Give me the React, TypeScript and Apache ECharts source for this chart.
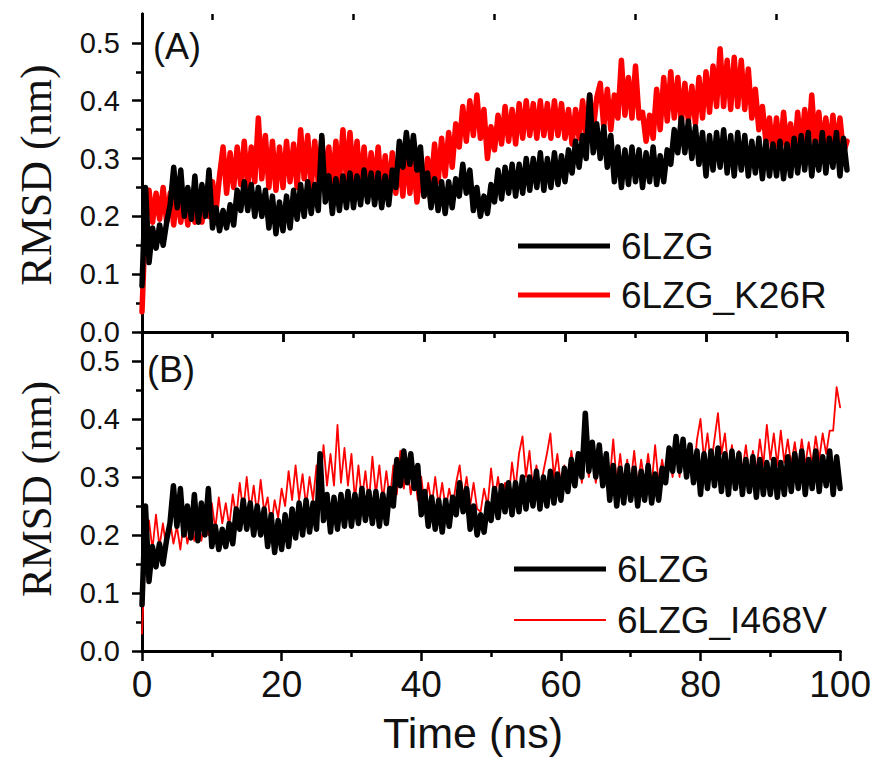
import { useEffect, useRef } from "react";
import * as echarts from "echarts";

// sampling step of the trajectories (ns)
const TIME_STEP_NS = 0.5;

// RMSD (nm) of 6LZG, read every 0.5 ns from 0 to 100 ns (shown in both panels)
const RMSD_6LZG = [
  0.08, 0.25, 0.12, 0.18, 0.145, 0.185, 0.15, 0.19, 0.22, 0.285,
  0.215, 0.28, 0.20, 0.25, 0.195, 0.27, 0.19, 0.255, 0.20, 0.28,
  0.18, 0.215, 0.175, 0.21, 0.18, 0.22, 0.185, 0.245, 0.21, 0.26,
  0.21, 0.255, 0.20, 0.25, 0.20, 0.245, 0.18, 0.235, 0.17, 0.225,
  0.175, 0.235, 0.18, 0.245, 0.195, 0.255, 0.20, 0.26, 0.205, 0.255,
  0.21, 0.34, 0.225, 0.27, 0.205, 0.265, 0.21, 0.27, 0.215, 0.275,
  0.215, 0.27, 0.22, 0.28, 0.225, 0.275, 0.22, 0.275, 0.215, 0.27,
  0.22, 0.28, 0.25, 0.33, 0.285, 0.345, 0.29, 0.34, 0.28, 0.32,
  0.235, 0.275, 0.215, 0.265, 0.21, 0.26, 0.205, 0.26, 0.215, 0.265,
  0.235, 0.29, 0.24, 0.28, 0.21, 0.25, 0.20, 0.235, 0.205, 0.255,
  0.225, 0.28, 0.23, 0.285, 0.24, 0.29, 0.235, 0.29, 0.24, 0.30,
  0.245, 0.30, 0.25, 0.31, 0.245, 0.30, 0.25, 0.31, 0.255, 0.305,
  0.26, 0.315, 0.275, 0.33, 0.285, 0.34, 0.30, 0.41, 0.31, 0.36,
  0.30, 0.355, 0.285, 0.34, 0.26, 0.32, 0.25, 0.315, 0.255, 0.32,
  0.26, 0.315, 0.25, 0.31, 0.26, 0.32, 0.255, 0.305, 0.26, 0.315,
  0.29, 0.35, 0.31, 0.37, 0.31, 0.365, 0.30, 0.355, 0.29, 0.345,
  0.27, 0.34, 0.28, 0.345, 0.285, 0.35, 0.275, 0.34, 0.27, 0.345,
  0.28, 0.34, 0.27, 0.33, 0.275, 0.335, 0.265, 0.33, 0.27, 0.325,
  0.27, 0.33, 0.265, 0.325, 0.27, 0.335, 0.275, 0.34, 0.28, 0.345,
  0.27, 0.33, 0.28, 0.345, 0.275, 0.335, 0.285, 0.345, 0.27, 0.335,
  0.28,
];

// RMSD (nm) of 6LZG_K26R, panel (A)
const RMSD_K26R = [
  0.035, 0.20, 0.245, 0.19, 0.24, 0.195, 0.25, 0.19, 0.24, 0.185,
  0.245, 0.19, 0.235, 0.185, 0.24, 0.19, 0.235, 0.19, 0.245, 0.20,
  0.26, 0.21, 0.27, 0.32, 0.24, 0.31, 0.25, 0.32, 0.255, 0.33,
  0.25, 0.32, 0.26, 0.37, 0.265, 0.34, 0.25, 0.33, 0.245, 0.32,
  0.25, 0.33, 0.26, 0.325, 0.25, 0.35, 0.265, 0.34, 0.25, 0.33,
  0.26, 0.335, 0.255, 0.32, 0.25, 0.33, 0.26, 0.35, 0.265, 0.345,
  0.26, 0.33, 0.25, 0.32, 0.245, 0.31, 0.25, 0.32, 0.24, 0.305,
  0.235, 0.31, 0.24, 0.305, 0.235, 0.315, 0.24, 0.30, 0.225, 0.285,
  0.235, 0.30, 0.25, 0.325, 0.26, 0.335, 0.27, 0.345, 0.285, 0.36,
  0.32, 0.39, 0.33, 0.40, 0.34, 0.41, 0.335, 0.385, 0.30, 0.355,
  0.315, 0.375, 0.325, 0.39, 0.33, 0.385, 0.325, 0.395, 0.335, 0.40,
  0.34, 0.395, 0.335, 0.40, 0.34, 0.395, 0.335, 0.40, 0.34, 0.395,
  0.335, 0.385, 0.325, 0.385, 0.335, 0.40, 0.34, 0.41, 0.35, 0.405,
  0.43, 0.355, 0.42, 0.35, 0.41, 0.37, 0.47, 0.375, 0.44, 0.37,
  0.46, 0.37, 0.38, 0.33, 0.375, 0.335, 0.42, 0.35, 0.44, 0.365,
  0.45, 0.37, 0.44, 0.36, 0.43, 0.365, 0.425, 0.36, 0.44, 0.37,
  0.45, 0.38, 0.46, 0.39, 0.49, 0.39, 0.47, 0.385, 0.475, 0.39,
  0.47, 0.385, 0.455, 0.37, 0.42, 0.35, 0.39, 0.33, 0.37, 0.31,
  0.37, 0.305, 0.38, 0.315, 0.36, 0.30, 0.38, 0.315, 0.385, 0.32,
  0.41, 0.32, 0.38, 0.315, 0.37, 0.31, 0.375, 0.315, 0.37, 0.31,
  0.33,
];

// RMSD (nm) of 6LZG_I468V, panel (B)
const RMSD_I468V = [
  0.03, 0.17, 0.225, 0.175, 0.235, 0.18, 0.22, 0.175, 0.225, 0.185,
  0.215, 0.175, 0.225, 0.185, 0.215, 0.19, 0.235, 0.19, 0.225, 0.20,
  0.255, 0.21, 0.265, 0.22, 0.255, 0.215, 0.27, 0.23, 0.29, 0.24,
  0.30, 0.24, 0.285, 0.235, 0.295, 0.24, 0.265, 0.215, 0.26, 0.23,
  0.28, 0.25, 0.31, 0.26, 0.32, 0.26, 0.305, 0.25, 0.30, 0.26,
  0.32, 0.275, 0.355, 0.285, 0.34, 0.285, 0.39, 0.29, 0.35, 0.285,
  0.34, 0.26, 0.32, 0.26, 0.31, 0.255, 0.335, 0.27, 0.32, 0.26,
  0.31, 0.26, 0.32, 0.27, 0.345, 0.28, 0.32, 0.27, 0.31, 0.26,
  0.30, 0.25, 0.29, 0.25, 0.30, 0.25, 0.29, 0.245, 0.28, 0.25,
  0.29, 0.32, 0.265, 0.30, 0.25, 0.29, 0.245, 0.24, 0.28, 0.25,
  0.315, 0.26, 0.30, 0.255, 0.29, 0.26, 0.325, 0.28, 0.34, 0.37,
  0.30, 0.345, 0.28, 0.32, 0.275, 0.31, 0.34, 0.375, 0.30, 0.34,
  0.285, 0.32, 0.285, 0.345, 0.30, 0.34, 0.29, 0.345, 0.30, 0.34,
  0.29, 0.33, 0.285, 0.34, 0.295, 0.365, 0.29, 0.34, 0.285, 0.33,
  0.29, 0.345, 0.285, 0.33, 0.29, 0.34, 0.285, 0.355, 0.29, 0.33,
  0.295, 0.34, 0.30, 0.35, 0.30, 0.355, 0.31, 0.35, 0.30, 0.365,
  0.40, 0.33, 0.375, 0.32, 0.365, 0.41, 0.34, 0.375, 0.31, 0.355,
  0.305, 0.345, 0.31, 0.355, 0.305, 0.345, 0.31, 0.365, 0.32, 0.39,
  0.33, 0.375, 0.32, 0.38, 0.325, 0.365, 0.32, 0.36, 0.315, 0.365,
  0.32, 0.36, 0.32, 0.37, 0.33, 0.375, 0.34, 0.38, 0.38, 0.455,
  0.42,
];

const X_MAJOR_TICKS = [0, 20, 40, 60, 80, 100];
const X_MINOR_TICKS = [10, 30, 50, 70, 90];
const Y_MAJOR_TICKS = [0, 0.1, 0.2, 0.3, 0.4, 0.5];
const Y_MINOR_TICKS = [0.05, 0.15, 0.25, 0.35, 0.45];

const PANEL_LABELS = ["(A)", "(B)"];
const NAME_WT = "6LZG";
const NAME_K26R = "6LZG_K26R";
const NAME_I468V = "6LZG_I468V";
const X_TITLE = "Time (ns)";
const Y_TITLE = "RMSD (nm)";

const SANS = "'Liberation Sans', Arial, Helvetica, sans-serif";
const SERIF = "'Liberation Serif', 'Times New Roman', serif";

const toPairs = (vals: number[]) => vals.map((v, i) => [i * TIME_STEP_NS, v]);

const GRIDS = [
  { left: 142, top: 14, width: 705, height: 318 },
  { left: 142, top: 332, width: 705, height: 319 },
];

function buildOption() {
  const axisLine = { show: true, lineStyle: { color: "#000", width: 3 } };
  const tickLine = { color: "#000", width: 2.5 };
  const xAxes: any[] = [];
  const yAxes: any[] = [];
  GRIDS.forEach((_, gi) => {
    const base = { gridIndex: gi, type: "value", min: 0, max: 100, splitLine: { show: false } };
    xAxes.push({
      ...base,
      position: "bottom",
      axisLine,
      axisTick: { show: true, customValues: X_MAJOR_TICKS, length: 10, lineStyle: tickLine },
      axisLabel: {
        show: gi === 1,
        customValues: X_MAJOR_TICKS,
        fontSize: 37,
        fontFamily: SANS,
        color: "#111",
        margin: 15,
      },
    });
    xAxes.push({
      ...base,
      position: "bottom",
      axisLine: { show: false },
      axisTick: { show: true, customValues: X_MINOR_TICKS, length: 6, lineStyle: tickLine },
      axisLabel: { show: false },
    });
    xAxes.push({
      ...base,
      position: "top",
      axisLine,
      axisTick: { show: gi === 0, inside: true, customValues: X_MAJOR_TICKS, length: 10, lineStyle: tickLine },
      axisLabel: { show: false },
    });
    xAxes.push({
      ...base,
      position: "top",
      axisLine: { show: false },
      axisTick: { show: gi === 0, inside: true, customValues: X_MINOR_TICKS, length: 6, lineStyle: tickLine },
      axisLabel: { show: false },
    });

    const ybase = { gridIndex: gi, type: "value", min: 0, max: 0.55, splitLine: { show: false } };
    yAxes.push({
      ...ybase,
      position: "left",
      axisLine,
      axisTick: { show: true, customValues: Y_MAJOR_TICKS, length: 10, lineStyle: tickLine },
      axisLabel: {
        show: true,
        customValues: Y_MAJOR_TICKS,
        formatter: (v: number) => v.toFixed(1),
        fontSize: 29,
        fontFamily: SANS,
        color: "#111",
        margin: 22,
      },
    });
    yAxes.push({
      ...ybase,
      position: "left",
      axisLine: { show: false },
      axisTick: { show: true, customValues: Y_MINOR_TICKS, length: 6, lineStyle: tickLine },
      axisLabel: { show: false },
    });
    yAxes.push({
      ...ybase,
      position: "right",
      axisLine,
      axisTick: { show: false },
      axisLabel: { show: false },
    });
  });

  const line = (name: string, data: number[], color: string, width: number, xi: number, yi: number, z: number) => ({
    type: "line",
    name,
    data: toPairs(data),
    xAxisIndex: xi,
    yAxisIndex: yi,
    showSymbol: false,
    symbol: "none",
    color,
    z,
    lineStyle: { color, width, join: "round", cap: "round" },
    emphasis: { disabled: true },
    clip: true,
  });

  const thickIcon = "path://M0,0h92v5h-92z";
  const thinIcon = "path://M0,0h46v1h-46z";

  const legendCommon = {
    orient: "vertical",
    itemWidth: 92,
    itemHeight: 14,
    selectedMode: false,
    itemStyle: { borderWidth: 0 },
    textStyle: { fontSize: 37, fontFamily: SANS, color: "#111", lineHeight: 40, padding: [0, 0, 0, 6] },
  };

  return {
    animation: false,
    backgroundColor: "#ffffff",
    grid: GRIDS.map((g) => ({ ...g, containLabel: false, show: false })),
    xAxis: xAxes,
    yAxis: yAxes,
    legend: [
      {
        ...legendCommon,
        left: 513,
        top: 221,
        itemGap: 9,
        data: [
          { name: NAME_WT, icon: thickIcon },
          { name: NAME_K26R, icon: thickIcon },
        ],
      },
      {
        ...legendCommon,
        left: 509,
        top: 544,
        itemGap: 11,
        data: [
          { name: NAME_WT, icon: thickIcon },
          { name: NAME_I468V, icon: thinIcon },
        ],
      },
    ],
    series: [
      line(NAME_K26R, RMSD_K26R, "#ff0000", 5.5, 0, 0, 2),
      line(NAME_WT, RMSD_6LZG, "#000000", 5.5, 0, 0, 3),
      line(NAME_I468V, RMSD_I468V, "#ff0000", 1.8, 4, 3, 2),
      line(NAME_WT, RMSD_6LZG, "#000000", 5.5, 4, 3, 3),
    ],
    graphic: [
      {
        type: "text",
        left: 153,
        top: 28,
        style: { text: PANEL_LABELS[0], fontSize: 36, fontFamily: SANS, fill: "#111" },
      },
      {
        type: "text",
        left: 147,
        top: 351,
        style: { text: PANEL_LABELS[1], fontSize: 36, fontFamily: SANS, fill: "#111" },
      },
      {
        type: "text",
        x: 36,
        y: 175,
        rotation: Math.PI / 2,
        style: { text: Y_TITLE, fontSize: 44, fontFamily: SERIF, fill: "#111", align: "center", verticalAlign: "middle" },
      },
      {
        type: "text",
        x: 36,
        y: 489,
        rotation: Math.PI / 2,
        style: { text: Y_TITLE, fontSize: 43, fontFamily: SERIF, fill: "#111", align: "center", verticalAlign: "middle" },
      },
      {
        type: "text",
        x: 473,
        y: 711,
        style: { text: X_TITLE, fontSize: 43, fontFamily: SANS, fill: "#111", align: "center", verticalAlign: "top" },
      },
    ],
  };
}

export default function App() {
  const ref = useRef<HTMLDivElement>(null);
  useEffect(() => {
    if (!ref.current) return;
    const chart = echarts.init(ref.current, undefined, { renderer: "svg" });
    chart.setOption(buildOption() as any);
    return () => chart.dispose();
  }, []);
  return (
    <div
      ref={ref}
      style={{ position: "fixed", left: 0, top: 0, width: 874, height: 758, background: "#fff" }}
    />
  );
}
